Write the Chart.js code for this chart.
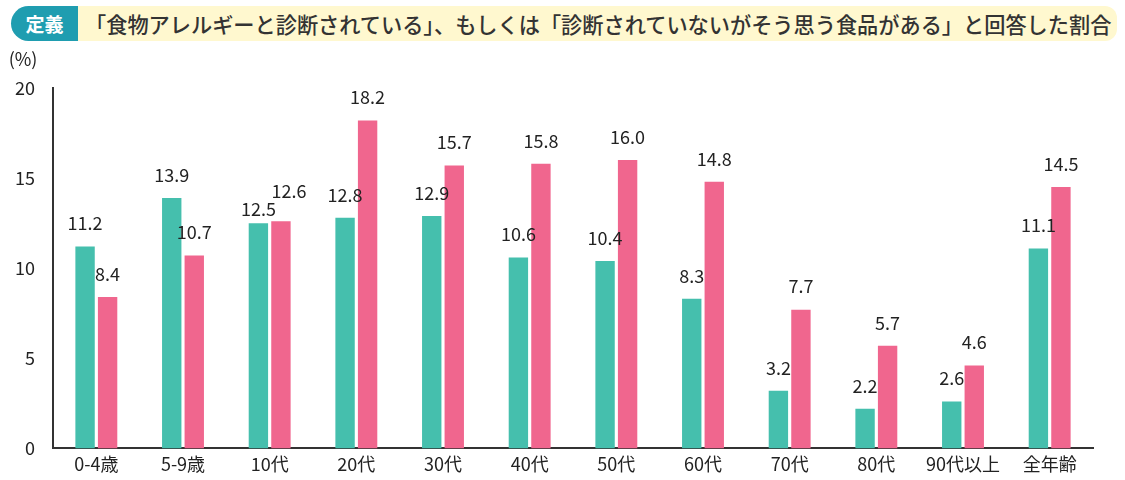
<!DOCTYPE html>
<html>
<head>
<meta charset="utf-8">
<script src="https://cdn.jsdelivr.net/npm/chart.js@4"></script>
<style>
  body { margin: 0; background: #fff; font-family: "Noto Sans CJK JP", sans-serif; }
  #wrap { position: relative; width: 1125px; height: 480px; }
  #badge { position: absolute; left: 11px; top: 6px; width: 67px; height: 35px; background: #1f9db0;
           border-radius: 18px 0 0 18px; color: #fff; font-weight: bold; font-size: 19px;
           line-height: 35px; text-align: center; }
  #band { position: absolute; left: 78px; top: 6px; width: 1039px; height: 35px; background: #fff8cf;
          border-radius: 0 12px 12px 0; color: #333; font-weight: 500; font-size: 21.2px;
          line-height: 35px; padding-left: 7px; box-sizing: border-box; white-space: nowrap; }
  #c { position: absolute; left: 0; top: 45px; }
</style>
</head>
<body>
<div id="wrap">
  <div id="badge">定義</div>
  <div id="band">「食物アレルギーと診断されている」、もしくは「診断されていないがそう思う食品がある」と回答した割合</div>
  <canvas id="c" width="1125" height="435"></canvas>
</div>
<script>
var categories = ['0-4歳', '5-9歳', '10代', '20代', '30代', '40代', '50代', '60代', '70代', '80代', '90代以上', '全年齢'];
var seriesA = [11.2, 13.9, 12.5, 12.8, 12.9, 10.6, 10.4, 8.3, 3.2, 2.2, 2.6, 11.1];
var seriesB = [8.4, 10.7, 12.6, 18.2, 15.7, 15.8, 16.0, 14.8, 7.7, 5.7, 4.6, 14.5];
var yTicks = [0, 5, 10, 15, 20];

var FONT = '"Noto Sans CJK JP", sans-serif';

var valueLabels = {
  id: 'valueLabels',
  afterDatasetsDraw: function (chart) {
    var ctx = chart.ctx;
    var m0 = chart.getDatasetMeta(0).data;
    var m1 = chart.getDatasetMeta(1).data;
    ctx.save();
    ctx.font = '18px ' + FONT;
    ctx.fillStyle = '#222';
    ctx.textAlign = 'center';
    ctx.textBaseline = 'middle';
    for (var i = 0; i < categories.length; i++) {
      var a = m0[i], b = m1[i];
      var ya = a.y - 23, yb = b.y - 23;
      var xa = a.x, xb = b.x;
      if (Math.abs(ya - yb) < 18) {
        // labels would collide: nudge them apart
        if (a.y < b.y) { ya = a.y - 30; yb = b.y - 14; }
        else { yb = b.y - 30; ya = a.y - 14; xb += 8; }
      }
      ctx.fillText(seriesA[i].toFixed(1), xa, ya);
      ctx.fillText(seriesB[i].toFixed(1), xb, yb);
    }
    ctx.fillText('(%)', 23, 14);
    ctx.restore();
  }
};

new Chart(document.getElementById('c'), {
  type: 'bar',
  data: {
    labels: categories,
    datasets: [{
      data: seriesA,
      backgroundColor: '#45bfad',
      categoryPercentage: 0.52,
      barPercentage: 0.86
    }, {
      data: seriesB,
      backgroundColor: '#f0668e',
      categoryPercentage: 0.52,
      barPercentage: 0.86
    }]
  },
  options: {
    responsive: false,
    animation: false,
    layout: { padding: { top: 43, right: 32, left: 0, bottom: 0 } },
    plugins: { legend: { display: false }, tooltip: { enabled: false } },
    scales: {
      x: {
        grid: { display: false, drawTicks: false },
        border: { color: '#333', width: 2 },
        ticks: { color: '#222', font: { family: FONT, size: 18 }, padding: 5, maxRotation: 0, autoSkip: false }
      },
      y: {
        min: 0, max: 20,
        afterBuildTicks: function (s) { s.ticks = yTicks.map(function (v) { return { value: v }; }); },
        afterFit: function (s) { s.width = 53; },
        grid: { display: false, drawTicks: false },
        border: { color: '#333', width: 2 },
        ticks: { color: '#222', font: { family: FONT, size: 18 }, padding: 18 }
      }
    }
  },
  plugins: [valueLabels]
});
</script>
</body>
</html>
